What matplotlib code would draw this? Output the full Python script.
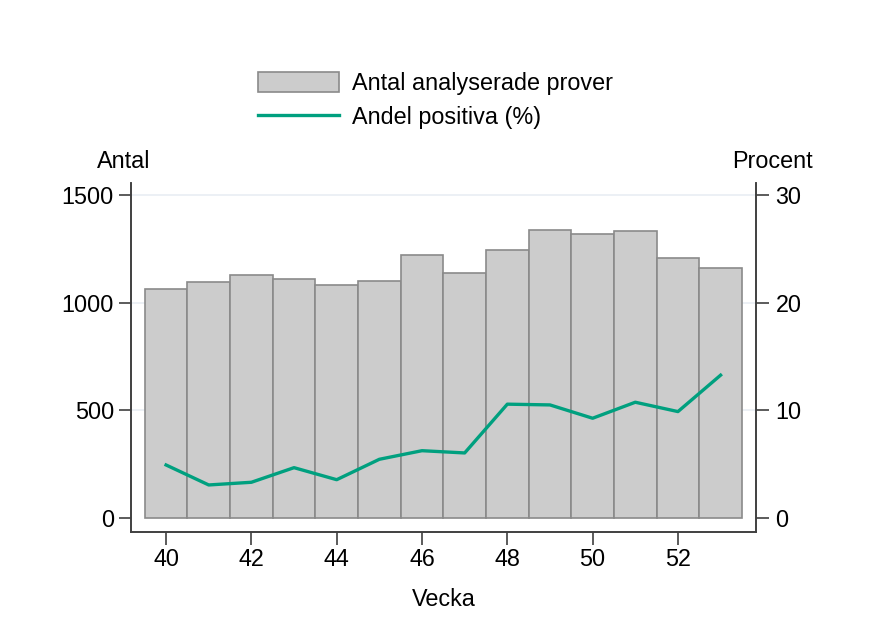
import numpy as np
import matplotlib.pyplot as plt
from matplotlib.patches import Patch
from matplotlib.lines import Line2D

plt.rcParams['font.family'] = ['Liberation Sans', 'DejaVu Sans']

# data
weeks = [40, 41, 42, 43, 44, 45, 46, 47, 48, 49, 50, 51, 52, 53]
antal = [1065, 1097, 1131, 1110, 1083, 1101, 1225, 1137, 1246, 1339, 1320, 1334, 1207, 1160]
andel = [4.91, 3.05, 3.30, 4.66, 3.54, 5.44, 6.24, 6.03, 10.57, 10.50, 9.26, 10.75, 9.88, 13.27]

fs = 16.8
green = '#00a07f'
axcol = '#404040'

fig = plt.figure(figsize=(8.74, 6.36), dpi=100)
ax = fig.add_axes([0.1495, 0.164, 0.7155, 0.549])
ax2 = ax.twinx()

for y in [500, 1000, 1500]:
    ax.axhline(y, color='#e9eef3', linewidth=1.2, zorder=0)

ax.bar(weeks, antal, width=1.0, color='#cccccc', edgecolor='#8a8a8a', linewidth=1.2, zorder=2)
ax2.plot(weeks, andel, color=green, linewidth=2.4, zorder=3)

ax.set_xlim(39.17, 53.83)
ax.set_ylim(-65, 1560)
ax2.set_ylim(-1.3, 31.2)

ax.set_xticks([40, 42, 44, 46, 48, 50, 52])
ax.set_yticks([0, 500, 1000, 1500])
ax2.set_yticks([0, 10, 20, 30])

for a in (ax, ax2):
    a.spines['top'].set_visible(False)
    for s in ['left', 'right', 'bottom']:
        a.spines[s].set_color(axcol)
        a.spines[s].set_linewidth(1.2)
    a.tick_params(labelsize=fs, length=9, width=1.2, color=axcol, pad=3)
ax2.tick_params(axis='y', pad=5)
ax.set_zorder(ax2.get_zorder() - 1)
ax2.patch.set_visible(False)

ax.set_xlabel('Vecka', fontsize=fs, labelpad=12)
fig.text(97 / 874, 1 - 161 / 636, 'Antal', fontsize=fs, ha='left', va='center')
fig.text(813 / 874, 1 - 161 / 636, 'Procent', fontsize=fs, ha='right', va='center')

handles = [Patch(facecolor='#cccccc', edgecolor='#8a8a8a', linewidth=1.2),
           Line2D([0], [0], color=green, linewidth=2.4)]
fig.legend(handles, ['Antal analyserade prover', 'Andel positiva (%)'],
           loc='upper left', bbox_to_anchor=(249 / 874, 1 - 63 / 636),
           frameon=False, fontsize=fs, handlelength=3.45, handleheight=0.93,
           handletextpad=0.55, labelspacing=0.46, borderaxespad=0)

fig.savefig('out.png', dpi=100)
